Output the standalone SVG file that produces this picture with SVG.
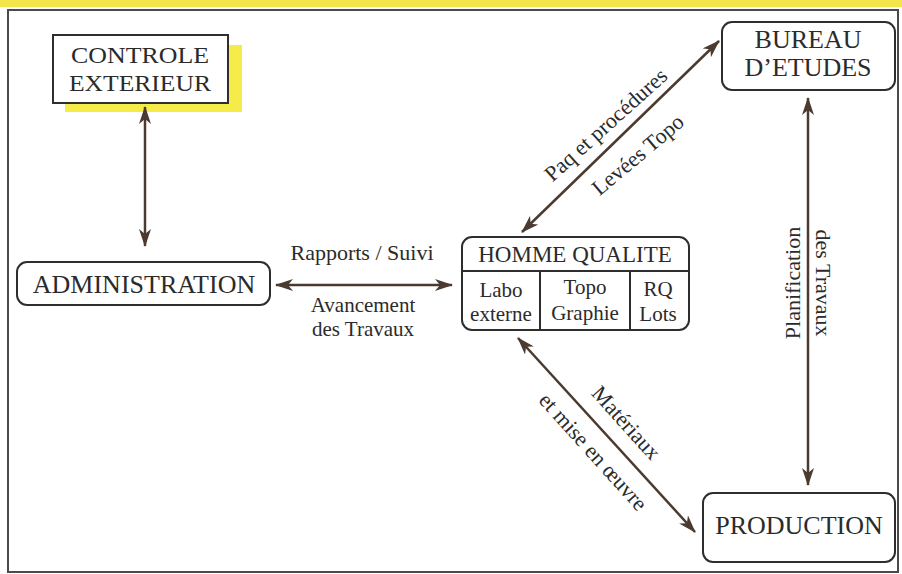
<svg xmlns="http://www.w3.org/2000/svg" width="902" height="574" viewBox="0 0 902 574">
<defs>
<marker id="ah" markerUnits="userSpaceOnUse" markerWidth="18" markerHeight="12" refX="17" refY="6" orient="auto-start-reverse" viewBox="0 0 18 12">
<path d="M0,0 L18,6 L0,12 L5,6 Z" fill="#4a3a30"/>
</marker>
<style>
.box{fill:#fff;stroke:#2e2e2e;stroke-width:2}
.t{font-family:"Liberation Serif","Times New Roman",serif;fill:#2b2b2b;text-anchor:middle}
.big{font-size:26px}
.lab{font-size:22px}
.sub{font-size:21px}
.c{stroke:#4a3a30;stroke-width:2.5;fill:none;marker-start:url(#ah);marker-end:url(#ah)}
</style>
</defs>
<rect x="0" y="0" width="902" height="574" fill="#fff"/>
<rect x="0" y="0" width="902" height="7" fill="#f2e64a"/>
<rect x="8" y="10" width="890" height="562" fill="none" stroke="#4a4a4a" stroke-width="2"/>

<g id="controle">
<rect x="65" y="45" width="177" height="67" fill="#f5ec4a"/>
<rect class="box" x="53" y="35" width="175" height="68"/>
<text class="t" style="font-size:24px" x="140" y="63" textLength="138" lengthAdjust="spacingAndGlyphs">CONTROLE</text>
<text class="t" style="font-size:24px" x="140" y="91" textLength="142" lengthAdjust="spacingAndGlyphs">EXTERIEUR</text>
</g>

<g id="administration">
<rect class="box" x="17" y="262" width="253" height="43" rx="10"/>
<text class="t big" x="144" y="293">ADMINISTRATION</text>
</g>

<g id="homme-qualite">
<rect class="box" x="462" y="237" width="227" height="93" rx="10"/>
<line x1="462" y1="271" x2="689" y2="271" stroke="#2e2e2e" stroke-width="2"/>
<line x1="540" y1="271" x2="540" y2="330" stroke="#2e2e2e" stroke-width="2"/>
<line x1="630" y1="271" x2="630" y2="330" stroke="#2e2e2e" stroke-width="2"/>
<text class="t" style="font-size:23px" x="575" y="262">HOMME QUALITE</text>
<text class="t sub" x="501" y="297">Labo</text>
<text class="t sub" x="501" y="321">externe</text>
<text class="t sub" x="585" y="294">Topo</text>
<text class="t sub" x="585" y="320">Graphie</text>
<text class="t sub" x="658" y="296">RQ</text>
<text class="t sub" x="658" y="321">Lots</text>
</g>

<g id="bureau">
<rect class="box" x="722" y="22" width="173" height="68" rx="10"/>
<text class="t big" x="808" y="48">BUREAU</text>
<text class="t big" x="808" y="76">D’ETUDES</text>
</g>

<g id="production">
<rect class="box" x="703" y="493" width="192" height="69" rx="10"/>
<text class="t big" x="799" y="534">PRODUCTION</text>
</g>

<g id="connectors">
<line class="c" x1="145" y1="107" x2="145" y2="246"/>
<line class="c" x1="276" y1="285" x2="452" y2="285"/>
<line class="c" x1="522" y1="232" x2="719" y2="41"/>
<line class="c" x1="808" y1="98" x2="808" y2="485"/>
<line class="c" x1="518" y1="338" x2="695" y2="532"/>
</g>

<g id="labels">
<text class="t lab" x="362" y="260">Rapports / Suivi</text>
<text class="t" style="font-size:21px" x="363" y="312">Avancement</text>
<text class="t" style="font-size:21px" x="363" y="336">des Travaux</text>
<text class="t lab" transform="translate(606,125) rotate(-42)" y="7">Paq et procédures</text>
<text class="t lab" transform="translate(638,155) rotate(-40)" y="7">Levées Topo</text>
<text class="t lab" transform="translate(793,283) rotate(-90)" y="7">Planification</text>
<text class="t lab" transform="translate(823,283) rotate(90)" y="7">des Travaux</text>
<text class="t lab" transform="translate(626,423) rotate(48)" y="7">Matériaux</text>
<text class="t lab" transform="translate(593,452) rotate(48)" y="7">et mise en œuvre</text>
</g>
</svg>
